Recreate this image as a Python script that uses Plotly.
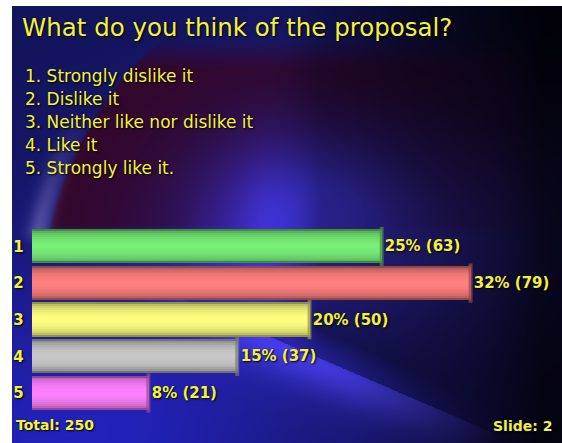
import base64
import struct
import zlib

import numpy as np
import plotly.graph_objects as go

# ---------------- data ----------------
title_text = "What do you think of the proposal?"
options = [
    "1. Strongly dislike it",
    "2. Dislike it",
    "3. Neither like nor dislike it",
    "4. Like it",
    "5. Strongly like it.",
]
categories = ["1", "2", "3", "4", "5"]
counts = [63, 79, 50, 37, 21]
percents = [25, 32, 20, 15, 8]
bar_colors = [(120, 240, 120), (255, 128, 128), (255, 255, 128), (200, 200, 200), (255, 128, 255)]
total_label = "Total: 250"
slide_label = "Slide: 2"

W, H = 562, 443
YELLOW = "#f2f23c"


def px_y(y):
    return 1 - y / H


def px_x(x):
    return x / W


# ---------------- background image ----------------
def make_background():
    yy, xx = np.mgrid[0:H, 0:W].astype(float)
    t = np.clip((xx - 350) / 190, 0, 1) ** 1.2
    left = np.array([20, 20, 92.0])
    right = np.array([4, 3, 16.0])
    col = left[None, None, :] * (1 - t[..., None]) + right[None, None, :] * t[..., None]
    # lower-left blue
    b = np.exp(-(((xx - 80) / 220) ** 2 + ((yy - 440) / 190) ** 2))
    col += b[..., None] * np.array([14, 14, 95.0]) * (1 - t[..., None])
    # central glow
    g = np.exp(-(((xx - 330) / 150) ** 2 + ((yy - 225) / 115) ** 2))
    col += g[..., None] * np.array([55, 40, 155.0])
    # maroon swoosh
    d = np.sqrt((xx - 385) ** 2 + (yy - 300) ** 2)
    inside = np.clip((345 - d) / 4, 0, 1)
    my = np.clip((238 - yy) / 14, 0, 1) * np.clip((yy - 38) / 30, 0, 1)
    wm = inside * my * np.clip(1 - 1.1 * g, 0, 1) * (1 - t) * 0.97
    maroon = np.array([52, 6, 40.0])
    col = col * (1 - wm[..., None]) + maroon[None, None, :] * wm[..., None]
    # lavender rim
    rim = np.exp(-((d - 354) / 11) ** 2) * np.clip((yy - 110) / 120, 0, 1) * np.clip((245 - yy) / 15, 0, 1)
    col = col * (1 - 0.5 * rim[..., None]) + np.array([140, 130, 200.0]) * 0.5 * rim[..., None]
    # lower diagonal soft boundary
    x0, y0, x1, y1 = 140.0, 285.0, 500.0, 440.0
    nx, ny = -(y1 - y0), (x1 - x0)
    nl = np.hypot(nx, ny)
    sd = ((xx - x0) * nx + (yy - y0) * ny) / nl
    along = np.clip(((xx - x0) * (x1 - x0) + (yy - y0) * (y1 - y0)) / ((x1 - x0) ** 2 + (y1 - y0) ** 2), 0, 1)
    fade = np.sin(np.pi * along) * (along > 0)
    band = np.exp(-(np.maximum(sd, 0) / 28) ** 2) * (sd > -4) * fade
    col += band[..., None] * np.array([30, 24, 70.0])
    above = np.clip(-sd / 30, 0, 1) * fade * np.clip((xx - 260) / 60, 0, 1)
    col *= (1 - 0.5 * above)[..., None]
    col = np.clip(col, 0, 255)
    # white margins (slide cropped)
    col[:6, :, :] = 255
    col[:, :12, :] = 255
    return col.astype(np.uint8)


def png_data_uri(arr):
    h, w, _ = arr.shape
    raw = b"".join(b"\x00" + arr[r].tobytes() for r in range(h))

    def chunk(tag, data):
        c = struct.pack(">I", len(data)) + tag + data
        return c + struct.pack(">I", zlib.crc32(tag + data) & 0xFFFFFFFF)

    png = b"\x89PNG\r\n\x1a\n"
    png += chunk(b"IHDR", struct.pack(">IIBBBBB", w, h, 8, 2, 0, 0, 0))
    png += chunk(b"IDAT", zlib.compress(raw, 9))
    png += chunk(b"IEND", b"")
    return "data:image/png;base64," + base64.b64encode(png).decode()


bg_uri = png_data_uri(make_background())

# ---------------- figure ----------------
fig = go.Figure()
ypos = list(range(1, len(categories) + 1))
labels = [f"{p}% ({c})" for p, c in zip(percents, counts)]

N = 9
full = 0.93
for k in range(N):
    h = full * (1 - k / N)
    u = min(h / full, 0.999)
    bright = 0.55 + 0.45 * np.sqrt(1 - u ** 2)
    cols = [
        "rgb({},{},{})".format(*[int(min(255, c * bright)) for c in bc]) for bc in bar_colors
    ]
    first = k == 0
    fig.add_trace(
        go.Bar(
            y=ypos,
            x=counts,
            orientation="h",
            width=h,
            marker=dict(color=cols, line=dict(width=0)),
            text=labels if first else None,
            textposition="outside" if first else "none",
            constraintext="none",
            textfont=dict(family="DejaVu Sans", size=15, color=YELLOW, weight="bold",
                          shadow="1px 1px 2px #000"),
            cliponaxis=False,
            hoverinfo="skip",
            showlegend=False,
        )
    )

# darker rounded end caps of the cylinders
cap_cols = ["rgba({},{},{},0.7)".format(*[int(c * 0.6) for c in bc]) for bc in bar_colors]
fig.add_trace(
    go.Scatter(
        x=counts,
        y=ypos,
        mode="markers",
        marker=dict(symbol="line-ns", size=28, line=dict(width=4, color=cap_cols)),
        cliponaxis=False,
        hoverinfo="skip",
        showlegend=False,
    )
)

fig.update_layout(
    width=W,
    height=H,
    margin=dict(l=0, r=0, t=0, b=0),
    paper_bgcolor="white",
    plot_bgcolor="rgba(0,0,0,0)",
    barmode="overlay",
    bargap=0,
    xaxis=dict(visible=False, range=[0, 95.46], domain=[31.7 / W, 1], fixedrange=True),
    yaxis=dict(
        range=[5.5, 0.5],
        domain=[px_y(411.2), px_y(228.2)],
        tickvals=ypos,
        ticktext=categories,
        ticks="",
        ticklabelstandoff=7,
        showgrid=False,
        zeroline=False,
        showline=False,
        tickfont=dict(family="DejaVu Sans", size=15, color=YELLOW, weight="bold",
                      shadow="1px 1px 2px #000"),
        fixedrange=True,
    ),
    images=[
        dict(source=bg_uri, xref="paper", yref="paper", x=0, y=1, sizex=1, sizey=1,
             xanchor="left", yanchor="top", sizing="stretch", layer="below")
    ],
    showlegend=False,
)

annotations = [
    dict(text=title_text, x=px_x(20), y=px_y(27.5), xanchor="left", yanchor="middle",
         font=dict(family="DejaVu Sans", size=24.5, color=YELLOW, shadow="1px 1px 2px #000")),
]
for i, opt in enumerate(options):
    base = 82.3 + 23.1 * i
    annotations.append(
        dict(text=opt, x=px_x(23), y=px_y(base - 6.5), xanchor="left", yanchor="middle",
             font=dict(family="DejaVu Sans", size=17, color=YELLOW, shadow="1px 1px 2px #000"))
    )
annotations.append(
    dict(text=total_label, x=px_x(14), y=px_y(425), xanchor="left", yanchor="middle",
         font=dict(family="DejaVu Sans", size=14, color=YELLOW, weight="bold",
                   shadow="1px 1px 2px #000"))
)
annotations.append(
    dict(text=slide_label, x=px_x(554), y=px_y(425.5), xanchor="right", yanchor="middle",
         font=dict(family="DejaVu Sans", size=14, color=YELLOW, weight="bold",
                   shadow="1px 1px 2px #000"))
)
for a in annotations:
    a.update(xref="paper", yref="paper", showarrow=False)
fig.update_layout(annotations=annotations)

fig.write_html("out.html")
